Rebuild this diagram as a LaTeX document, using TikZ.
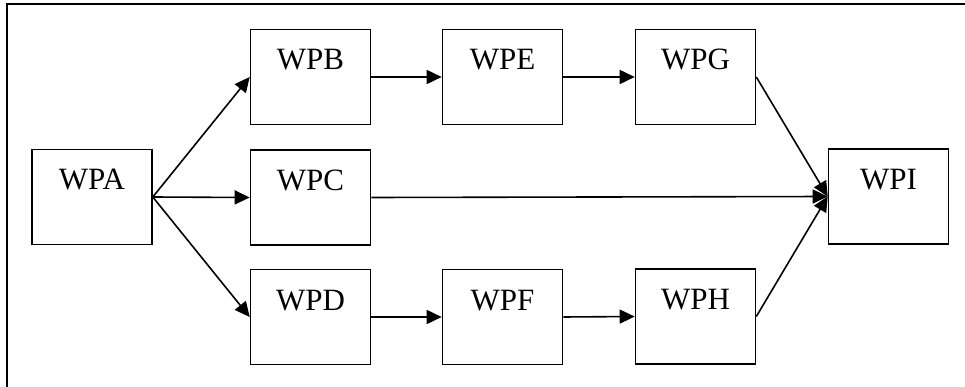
\documentclass[tikz,border=0pt]{standalone}
\usepackage{fontspec}
\setmainfont{Liberation Serif}
\usetikzlibrary{arrows.meta}
\tikzset{
  wpbox/.style={draw, line width=1.6pt, minimum width=120pt, minimum height=95pt, inner sep=0pt},
  wplabel/.style={anchor=base, inner sep=0pt, font=\fontsize{31}{36}\selectfont},
  flow/.style={line width=1.6pt, -{Triangle[length=15pt,width=14pt]}}
}
\begin{document}
\begin{tikzpicture}[x=1pt, y=-1pt]
\useasboundingbox (0,0) rectangle (965,387);
\fill[white] (0,0) rectangle (965,387);
\coordinate (fl) at (7,387);
\coordinate (fc) at (7,4);
\coordinate (fr) at (965,4);
\draw[line width=1.8pt] (fl) -- (fc) -- (fr);
\node[wpbox] (A) at (92,197) {};
\node[wpbox] (B) at (310.5,77) {};
\node[wpbox] (C) at (310.5,197.5) {};
\node[wpbox] (D) at (310.5,317) {};
\node[wpbox] (E) at (502.5,77) {};
\node[wpbox] (F) at (502.5,317) {};
\node[wpbox] (G) at (695.5,77) {};
\node[wpbox] (H) at (695.5,316.5) {};
\node[wpbox] (I) at (888.5,196.5) {};
\foreach \n in {A,B,C,D,E,F,G,H,I}{
  \node[wplabel] (t\n) at ([yshift=7pt]\n.center) {WP\n};
}
\draw[flow] (A.east) -- (B.west);
\draw[flow] (A.east) -- (C.west);
\draw[flow] (A.east) -- (D.west);
\draw[flow] (B.east) -- (E.west);
\draw[flow] (E.east) -- (G.west);
\draw[flow] (D.east) -- (F.west);
\draw[flow] (F.east) -- (H.west);
\draw[flow] (G.east) -- (I.west);
\draw[flow] (C.east) -- (I.west);
\draw[flow] (H.east) -- (I.west);
\end{tikzpicture}
\end{document}
